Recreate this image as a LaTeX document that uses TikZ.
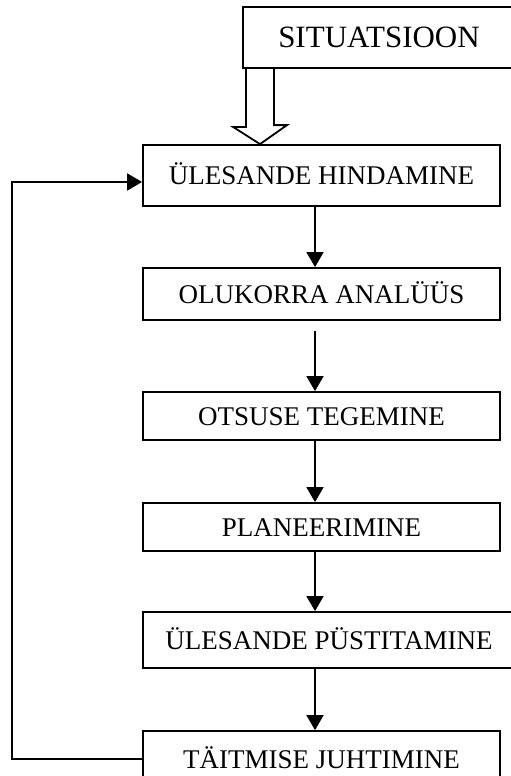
\documentclass[tikz,border=0pt]{standalone}
\usepackage{fontspec}
\setmainfont{Liberation Serif}
\usetikzlibrary{arrows.meta}

\tikzset{
  stage/.style={draw,line width=1.8pt,inner sep=0pt,minimum width=357pt,
                text height=18pt,text depth=0pt,font=\fontsize{27}{30}\selectfont},
  arr/.style={line width=1.8pt,-{Triangle[width=17pt,length=15pt]}}
}

\begin{document}
\begin{tikzpicture}[x=1pt,y=1pt]
\clip (0,0) rectangle (511,-776);
\fill[white] (0,0) rectangle (511,-776);

\node[stage,minimum width=272pt,minimum height=61pt,text height=21pt,
      font=\fontsize{31}{34}\selectfont] (sit) at (379,-37.5) {SITUATSIOON};
\node[stage,minimum height=61pt] (hind) at (321.5,-175.5) {ÜLESANDE HINDAMINE};
\node[stage,minimum height=52pt] (anal) at (321.5,-294) {OLUKORRA ANALÜÜS};
\node[stage,minimum height=48pt] (otsus) at (321.5,-416) {OTSUSE TEGEMINE};
\node[stage,minimum height=48pt] (plan) at (321.5,-527) {PLANEERIMINE};
\node[stage,minimum width=372pt,minimum height=56pt] (pyst) at (329,-640) {ÜLESANDE PÜSTITAMINE};
\node[stage,minimum height=56pt] (taitm) at (321.5,-759) {TÄITMISE JUHTIMINE};

\coordinate (ax) at (315,0);
\coordinate (hx) at (260,0);
\coordinate (back) at (12,0);

%% hollow arrow
\draw[line width=1.8pt,line join=miter] ([xshift=-14pt]sit.south -| hx) -- ++(0,-58) -- ++(-13,0)
      -- (hind.north -| hx) -- ++(27,19) -- ++(-13,0) -- ([xshift=14pt]sit.south -| hx);

\foreach \a/\b in {hind/anal,otsus/plan,plan/pyst,pyst/taitm}
  \draw[arr] (\a.south -| ax) -- (\b.north -| ax);
\draw[arr,shorten <=10pt] (anal.south -| ax) -- (otsus.north -| ax);

%% feedback
\draw[arr] (taitm.west) -- (taitm.west -| back) |- ([yshift=-6.5pt]hind.west);
\end{tikzpicture}
\end{document}
